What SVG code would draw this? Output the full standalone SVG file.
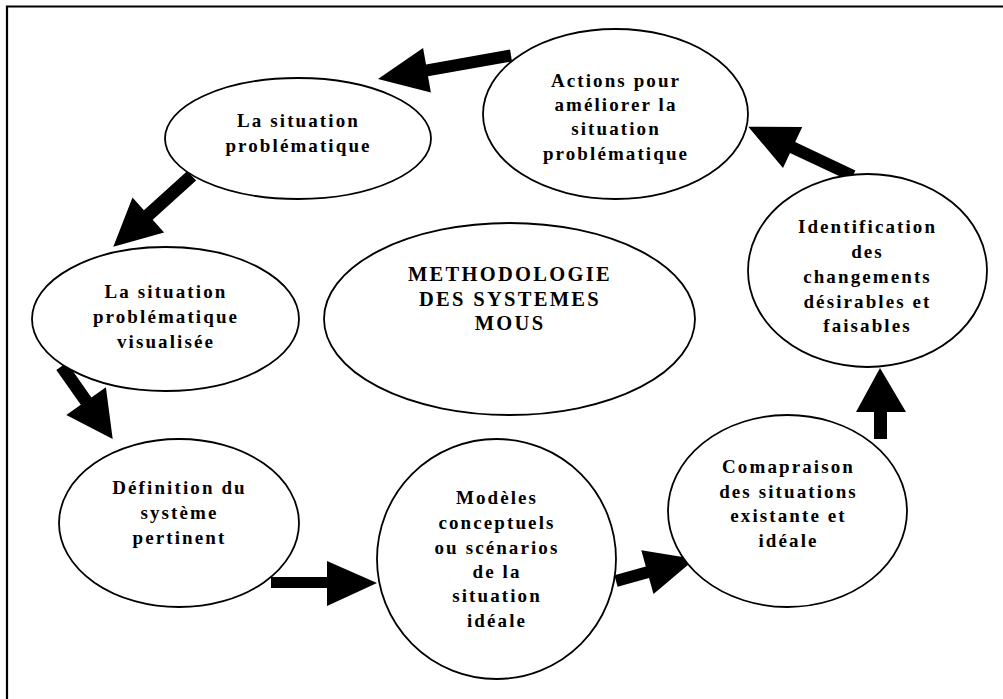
<svg xmlns="http://www.w3.org/2000/svg" width="1003" height="699" viewBox="0 0 1003 699">
<style>
.node ellipse{fill:#fff;stroke:#000;stroke-width:1.8}
.node text{font-family:"Liberation Serif","Times New Roman",serif;font-weight:bold;font-size:19px;letter-spacing:2.1px;text-anchor:middle;fill:#000}
#n4 text{font-size:20.5px;letter-spacing:2.3px}
.conn polygon{fill:#000;stroke:none}
</style>
<rect width="1003" height="699" fill="#fff"/>
<path d="M7,710 V6.5 H1010" fill="none" stroke="#000" stroke-width="2.2"/>
<g id="connectors" class="conn">
<polygon points="510,49.6 426,64.4 423.1,48.1 378,79 430.9,92.5 428,76.2 512,61.4"/>
<polygon points="187.3,171 143.9,210.2 132.5,197.5 113.3,246.7 164.1,232.5 152.7,219.8 196.1,180.6"/>
<polygon points="56.3,369.9 80.8,404.8 66.3,415 112.7,439 105.9,387.2 91.4,397.4 66.9,362.5"/>
<polygon points="271,577 327,577 327,561 377,583 327,606 327,588 271,588"/>
<polygon points="614.4,575.2 645.8,566.4 641.3,550.3 695,559 653.5,594.1 649,578 617.6,586.8"/>
<polygon points="874,439 874,412 856,412 880,368 906,412 887,412 887,439"/>
<polygon points="855.4,170.4 795.2,142.1 802.2,127 748.3,126.7 783,168 790,152.9 850.2,181.2"/>
</g>
<g id="n1" class="node">
<ellipse cx="298" cy="138.5" rx="133" ry="60.5"/>
<text x="298.5" y="127">La situation</text>
<text x="298.5" y="152">problématique</text>
</g>
<g id="n2" class="node">
<ellipse cx="615.5" cy="114" rx="132.5" ry="85"/>
<text x="616" y="87">Actions pour</text>
<text x="616" y="110.5">améliorer la</text>
<text x="616" y="135">situation</text>
<text x="616" y="160">problématique</text>
</g>
<g id="n3" class="node">
<ellipse cx="165.5" cy="319" rx="133.5" ry="72"/>
<text x="166" y="298">La situation</text>
<text x="166" y="323">problématique</text>
<text x="166" y="347.5">visualisée</text>
</g>
<g id="n4" class="node">
<ellipse cx="509.5" cy="319" rx="185.5" ry="96"/>
<text x="510" y="281">METHODOLOGIE</text>
<text x="510" y="305.5">DES SYSTEMES</text>
<text x="510" y="330">MOUS</text>
</g>
<g id="n5" class="node">
<ellipse cx="867.5" cy="270.5" rx="119.5" ry="96.5"/>
<text x="867.5" y="233">Identification</text>
<text x="867.5" y="258">des</text>
<text x="867.5" y="283">changements</text>
<text x="867.5" y="307.5">désirables et</text>
<text x="867.5" y="332">faisables</text>
</g>
<g id="n6" class="node">
<ellipse cx="179" cy="523" rx="120" ry="84"/>
<text x="179.5" y="494">Définition du</text>
<text x="179.5" y="519">système</text>
<text x="179.5" y="543.5">pertinent</text>
</g>
<g id="n7" class="node">
<ellipse cx="496.5" cy="559" rx="119.5" ry="120"/>
<text x="497" y="503.5">Modèles</text>
<text x="497" y="528.5">conceptuels</text>
<text x="497" y="553.5">ou scénarios</text>
<text x="497" y="577.5">de la</text>
<text x="497" y="602">situation</text>
<text x="497" y="627">idéale</text>
</g>
<g id="n8" class="node">
<ellipse cx="787.5" cy="511" rx="119.5" ry="96"/>
<text x="788.5" y="473">Comapraison</text>
<text x="788.5" y="497.5">des situations</text>
<text x="788.5" y="522">existante et</text>
<text x="788.5" y="547">idéale</text>
</g>
</svg>
